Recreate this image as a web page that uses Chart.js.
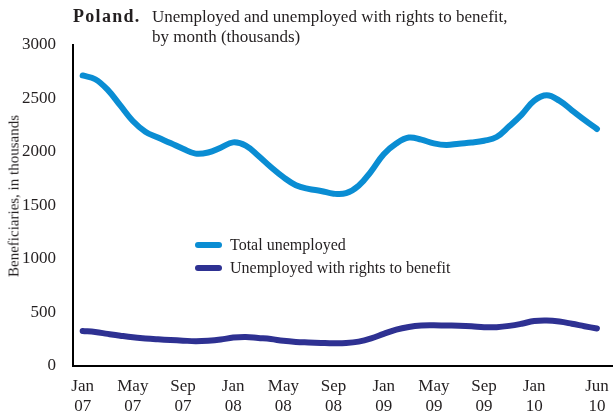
<!DOCTYPE html>
<html>
<head>
<meta charset="utf-8">
<script src="https://cdn.jsdelivr.net/npm/chart.js@4"></script>
<style>
  html,body{margin:0;padding:0;background:#fff;}
  #wrap{position:relative;width:615px;height:414px;font-family:'Liberation Serif',serif;color:#231f20;}
  #title{position:absolute;left:73px;top:7px;font-size:17px;line-height:20px;}
  #title b{position:absolute;left:0;top:-1px;font-size:18px;letter-spacing:1.3px;}
  #title span{display:block;margin-left:79px;}
  #ytitle{position:absolute;left:14px;top:196px;font-size:15px;transform:translate(-50%,-50%) rotate(-90deg);white-space:nowrap;}
  #legend{position:absolute;left:195px;top:233px;font-size:16px;line-height:23px;}
  #legend div{display:flex;align-items:center;}
  #legend i{display:inline-block;width:27px;height:6px;border-radius:3px;margin-right:8px;}
</style>
</head>
<body>
<div id="wrap">
  <canvas id="c" width="615" height="414"></canvas>
  <div id="title"><b>Poland.</b><span>Unemployed and unemployed with rights to benefit,<br>by month (thousands)</span></div>
  <div id="ytitle">Beneficiaries, in thousands</div>
  <div id="legend"></div>
</div>
<script>
/* monthly data, Jan 2007 .. Jun 2010 */
const months = ['Jan 07','Feb 07','Mar 07','Apr 07','May 07','Jun 07','Jul 07','Aug 07','Sep 07','Oct 07','Nov 07','Dec 07',
  'Jan 08','Feb 08','Mar 08','Apr 08','May 08','Jun 08','Jul 08','Aug 08','Sep 08','Oct 08','Nov 08','Dec 08',
  'Jan 09','Feb 09','Mar 09','Apr 09','May 09','Jun 09','Jul 09','Aug 09','Sep 09','Oct 09','Nov 09','Dec 09',
  'Jan 10','Feb 10','Mar 10','Apr 10','May 10','Jun 10'];
const totalUnemployed = [2715,2680,2580,2435,2290,2190,2135,2084,2030,1985,1995,2040,
  2090,2060,1965,1860,1765,1690,1655,1636,1610,1615,1685,1820,
  1980,2080,2135,2115,2080,2065,2078,2088,2105,2140,2240,2350,
  2480,2530,2480,2390,2300,2215];
const withBenefit = [327,318,300,283,268,258,250,243,237,232,236,247,
  266,272,262,252,235,225,220,216,213,215,228,258,
  300,340,365,378,380,378,377,372,362,363,375,395,
  420,425,415,395,372,350];
const tickMonths = [0,4,8,12,16,20,24,28,32,36,41];
const yTicks = [0,500,1000,1500,2000,2500,3000];

const SERIES = [
  {name:'Total unemployed', data:totalUnemployed, color:'#0a8dd3'},
  {name:'Unemployed with rights to benefit', data:withBenefit, color:'#2e3192'}
];

document.getElementById('legend').innerHTML = SERIES.map(s=>
  `<div><i style="background:${s.color}"></i>${s.name}</div>`).join('');

const FONT = {family:"'Liberation Serif',serif", size:17};

new Chart(document.getElementById('c'),{
  type:'line',
  data:{datasets:SERIES.map(s=>({
    label:s.name,
    data:s.data.map((v,i)=>({x:i,y:v})),
    borderColor:s.color,backgroundColor:s.color,
    borderWidth:6,pointRadius:0,tension:0.4,borderCapStyle:'round',borderJoinStyle:'round'}))},
  options:{responsive:false,animation:false,
    layout:{padding:{top:45,right:3,bottom:0,left:0}},
    plugins:{legend:{display:false},tooltip:{enabled:false}},
    scales:{
      x:{type:'linear',min:-0.77,max:42.2,
        grid:{display:false},border:{color:'#000',width:2},
        afterBuildTicks:sc=>{sc.ticks=tickMonths.map(v=>({value:v}));},
        afterFit:sc=>{sc.height=48;},
        ticks:{autoSkip:false,maxRotation:0,padding:3,color:'#231f20',font:{...FONT,lineHeight:1.15},
          callback:v=>months[v].split(' ')}},
      y:{min:0,max:3000,
        grid:{display:false},border:{color:'#000',width:2},
        afterBuildTicks:sc=>{sc.ticks=yTicks.map(v=>({value:v}));},
        afterFit:sc=>{sc.width=73;},
        ticks:{padding:9,color:'#231f20',font:FONT,callback:v=>String(v)}}
    }}
});
</script>
</body>
</html>
